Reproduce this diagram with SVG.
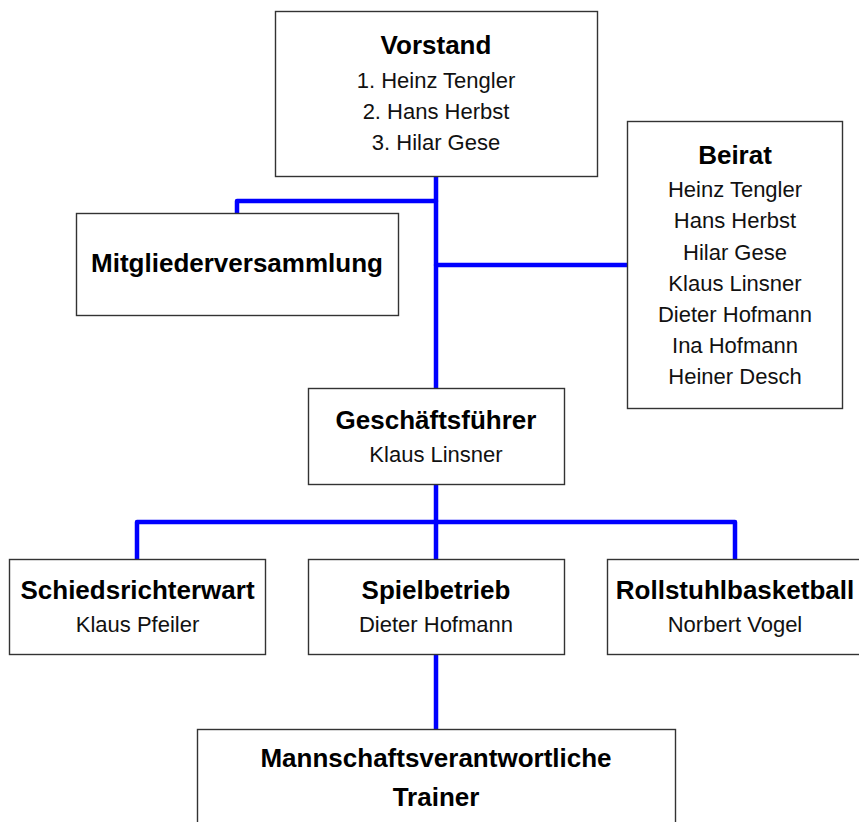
<svg xmlns="http://www.w3.org/2000/svg" width="859" height="822" viewBox="0 0 859 822">
<style>
.box{fill:#fff;stroke:#333;stroke-width:1.4}
.t{font-family:"Liberation Sans",Arial,Helvetica,sans-serif;text-anchor:middle;fill:#000}
.b{font-weight:bold;font-size:26px}
.n{font-size:22px;fill:#111}
.c{fill:none;stroke:#0000ff;stroke-width:4.5;stroke-linecap:round;stroke-linejoin:round}
</style>
<rect width="859" height="822" fill="#fff"/>
<g id="connectors">
<path class="c" d="M436,177 V388"/>
<path class="c" d="M436,201 H237 V213"/>
<path class="c" d="M436,265 H627"/>
<path class="c" d="M436,484 V560"/>
<path class="c" d="M137,560 V522 H735 V560"/>
<path class="c" d="M436,655 V730"/>
</g>
<g id="vorstand">
<rect class="box" x="275.5" y="11.5" width="322" height="165"/>
<text class="t b" x="436" y="54">Vorstand</text>
<text class="t n" x="436" y="88">1. Heinz Tengler</text>
<text class="t n" x="436" y="119">2. Hans Herbst</text>
<text class="t n" x="436" y="150">3. Hilar Gese</text>
</g>
<g id="mitgliederversammlung">
<rect class="box" x="76.5" y="213.5" width="322" height="102"/>
<text class="t b" x="237" y="272">Mitgliederversammlung</text>
</g>
<g id="beirat">
<rect class="box" x="627.5" y="121.5" width="215" height="287"/>
<text class="t b" x="735" y="164">Beirat</text>
<text class="t n" x="735" y="197">Heinz Tengler</text>
<text class="t n" x="735" y="228">Hans Herbst</text>
<text class="t n" x="735" y="260">Hilar Gese</text>
<text class="t n" x="735" y="291">Klaus Linsner</text>
<text class="t n" x="735" y="322">Dieter Hofmann</text>
<text class="t n" x="735" y="353">Ina Hofmann</text>
<text class="t n" x="735" y="384">Heiner Desch</text>
</g>
<g id="geschaeftsfuehrer">
<rect class="box" x="308.5" y="388.5" width="256" height="96"/>
<text class="t b" x="436" y="429">Geschäftsführer</text>
<text class="t n" x="436" y="462">Klaus Linsner</text>
</g>
<g id="schiedsrichterwart">
<rect class="box" x="9.5" y="559.5" width="256" height="95"/>
<text class="t b" x="137.5" y="599">Schiedsrichterwart</text>
<text class="t n" x="137.5" y="632">Klaus Pfeiler</text>
</g>
<g id="spielbetrieb">
<rect class="box" x="308.5" y="559.5" width="256" height="95"/>
<text class="t b" x="436" y="599">Spielbetrieb</text>
<text class="t n" x="436" y="632">Dieter Hofmann</text>
</g>
<g id="rollstuhlbasketball">
<rect class="box" x="607.5" y="559.5" width="256" height="95"/>
<text class="t b" x="735" y="599">Rollstuhlbasketball</text>
<text class="t n" x="735" y="632">Norbert Vogel</text>
</g>
<g id="trainer">
<rect class="box" x="197.5" y="729.5" width="478" height="120"/>
<text class="t b" x="436" y="767">Mannschaftsverantwortliche</text>
<text class="t b" x="436" y="806">Trainer</text>
</g>
</svg>
